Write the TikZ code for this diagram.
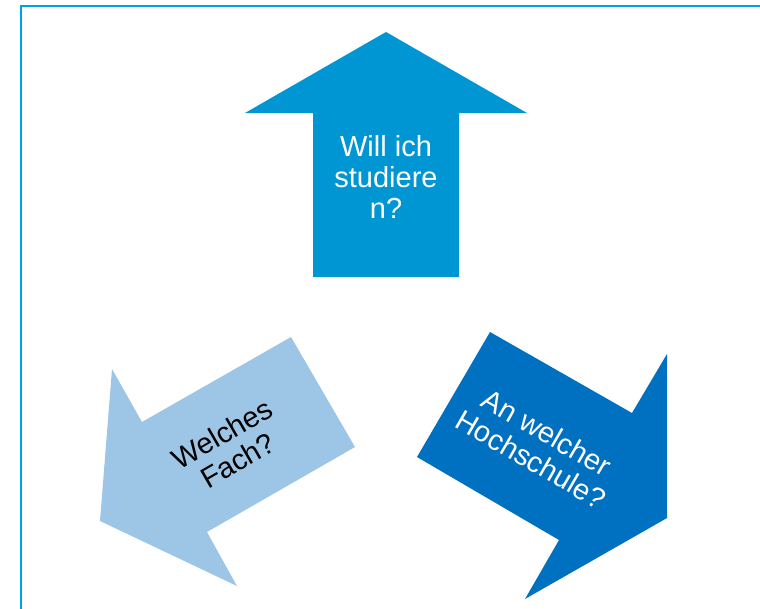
\documentclass[tikz,border=0pt]{standalone}
\usepackage{fontspec}
\setmainfont{Liberation Sans}
\definecolor{framecyan}{RGB}{0,162,230}
\definecolor{topblue}{RGB}{0,150,211}
\definecolor{lightblue}{RGB}{157,197,230}
\definecolor{darkblue}{RGB}{0,112,192}
\tikzset{
  question/.style={align=center,inner sep=0pt,font=\fontsize{29}{31}\selectfont}
}
\begin{document}
\begin{tikzpicture}[x=1pt,y=-1pt]
    		\useasboundingbox (0,0) rectangle (760,608);
    		\clip (0,0) rectangle (760,608);
    		\draw [framecyan,line width=2pt] (21,620) -- (21,6) -- (775,6);
    		\fill [topblue] (386,32) -- (527,113) -- (459,113) -- (459,277) -- (313,277) -- (313,113) -- (245,113) -- cycle;
    		\fill [lightblue] (291,337) -- (355,447) -- (207,532) -- (237,586) -- (100,521) -- (112,369) -- (142,422) -- cycle;
    		\fill [darkblue] (490,332) -- (632,413) -- (667,354) -- (667,518) -- (525,599) -- (559,540) -- (417,457) -- cycle;
    		\node (studieren) at (386,177) [question,text=white] {Will ich\\studiere\\n?};
    		\node (fach) at (230,447) [question,text=black,rotate=30] {Welches\\Fach?};
    		\node (hochschule) at (539,446) [question,text=white,rotate=-30] {An welcher\\Hochschule?};
    		\end{tikzpicture}
\end{document}
